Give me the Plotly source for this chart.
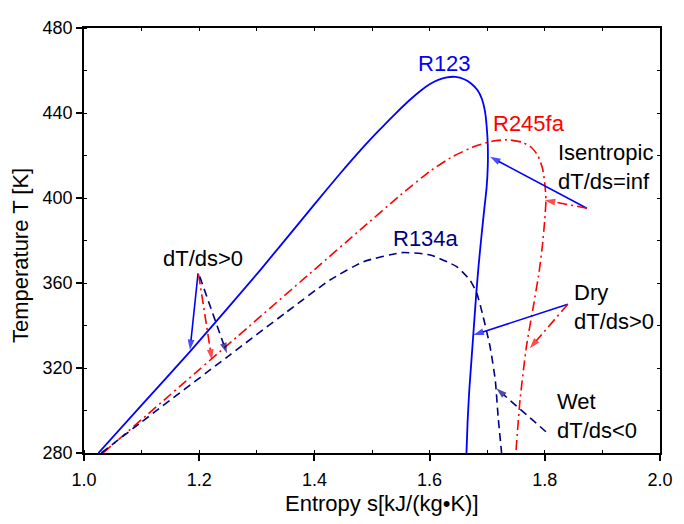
import plotly.graph_objects as go

# ---- data ----
r123_s = [1.025, 1.100, 1.184, 1.306, 1.400, 1.444, 1.479, 1.510, 1.540, 1.565, 1.585, 1.600, 1.615,
          1.630, 1.645, 1.660, 1.672, 1.683, 1.691, 1.696, 1.699, 1.701, 1.701, 1.699, 1.695, 1.690,
          1.685, 1.681, 1.677, 1.673, 1.669, 1.666, 1.664]
r123_T = [280.0, 302.5, 327.7, 366.1, 397.0, 411.3, 422.2, 431.2, 439.5, 446.0, 450.6, 453.5, 455.6,
          456.8, 457.0, 455.9, 453.9, 450.8, 446.5, 441.0, 434.0, 425.0, 415.0, 405.0, 395.0, 382.0,
          368.0, 355.0, 340.0, 325.0, 310.0, 295.0, 280.0]

r245_s = [1.033, 1.250, 1.400, 1.479, 1.549, 1.600, 1.640, 1.680, 1.710, 1.735, 1.760, 1.776, 1.788,
          1.796, 1.800, 1.802, 1.800, 1.796, 1.790, 1.780, 1.768, 1.757, 1.750]
r245_T = [280.0, 331.0, 366.3, 384.9, 401.3, 412.5, 419.5, 424.5, 426.8, 427.4, 426.3, 424.0, 420.0,
          414.0, 407.0, 399.0, 390.0, 378.0, 365.0, 348.8, 330.0, 305.0, 281.0]

r134_s = [1.030, 1.097, 1.253, 1.350, 1.427, 1.485, 1.552, 1.601, 1.647, 1.670, 1.682, 1.693, 1.705,
          1.714, 1.719, 1.725]
r134_T = [280.0, 294.0, 326.1, 346.0, 361.4, 370.0, 374.3, 373.2, 367.7, 361.4, 355.2, 344.1, 330.0,
          314.4, 297.0, 280.0]

# arrows: start (s, T) -> tip (s, T), styled like the fluid they point to
arrow_from_s = [1.198, 1.199, 1.201, 1.873, 1.873, 1.840, 1.840, 1.802]
arrow_from_T = [364.6, 364.0, 363.0, 395.2, 395.2, 350.0, 350.0, 290.0]
arrow_to_s = [1.184, 1.222, 1.248, 1.705, 1.800, 1.676, 1.774, 1.716]
arrow_to_T = [328.5, 323.8, 326.9, 419.4, 399.0, 335.5, 329.3, 310.4]
arrow_kind = ["R123", "R245fa", "R134a", "R123", "R245fa", "R123", "R245fa", "R134a"]

x_ticks = [1.0, 1.2, 1.4, 1.6, 1.8, 2.0]
y_ticks = [280, 320, 360, 400, 440, 480]

BLUE = "#0000FF"
RED = "#FF0000"
NAVY = "#000080"
style = {
    "R123": dict(color=BLUE, dash="solid"),
    "R245fa": dict(color=RED, dash="10px,4px,2px,4px"),
    "R134a": dict(color=NAVY, dash="8px,5px"),
}
FONT = "Liberation Sans, Arial, sans-serif"

fig = go.Figure()
fig.add_trace(go.Scatter(x=r123_s, y=r123_T, mode="lines", line_shape="spline",
                         line=dict(color=BLUE, width=1.8, smoothing=0.5), showlegend=False))
fig.add_trace(go.Scatter(x=r245_s, y=r245_T, mode="lines", line_shape="spline",
                         line=dict(color=RED, width=1.6, dash=style["R245fa"]["dash"], smoothing=0.5),
                         showlegend=False))
fig.add_trace(go.Scatter(x=r134_s, y=r134_T, mode="lines", line_shape="spline",
                         line=dict(color=NAVY, width=1.6, dash=style["R134a"]["dash"], smoothing=0.5),
                         showlegend=False))

for xs, ys, xe, ye, k in zip(arrow_from_s, arrow_from_T, arrow_to_s, arrow_to_T, arrow_kind):
    st = style[k]
    fig.add_trace(go.Scatter(
        x=[xs, xe], y=[ys, ye], mode="lines+markers",
        line=dict(color=st["color"], width=1.6, dash=st["dash"]),
        marker=dict(symbol="arrow", angleref="previous", size=[0, 11], color=st["color"],
                    line=dict(width=0)),
        showlegend=False))

# dummy trace for mirrored top/right axes
fig.add_trace(go.Scatter(x=[1.0], y=[280], xaxis="x2", yaxis="y2", mode="markers",
                         marker=dict(opacity=0), showlegend=False, hoverinfo="skip"))

ann = [
    dict(x=1.626, y=463.4, text="R123", color=BLUE, xanchor="center"),
    dict(x=1.773, y=435.2, text="R245fa", color=RED, xanchor="center"),
    dict(x=1.594, y=381.0, text="R134a", color=NAVY, xanchor="center"),
    dict(x=1.206, y=371.3, text="dT/ds>0", color="black", xanchor="center"),
    dict(x=1.819, y=414.4, text="Isentropic<br>dT/ds=inf", color="black", xanchor="left"),
    dict(x=1.847, y=348.7, text="Dry<br>dT/ds>0", color="black", xanchor="left"),
    dict(x=1.817, y=297.5, text="Wet<br>dT/ds<0", color="black", xanchor="left"),
]
for a in ann:
    fig.add_annotation(x=a["x"], y=a["y"], text=a["text"], showarrow=False, xanchor=a["xanchor"],
                       yanchor="middle", align="left",
                       font=dict(family=FONT, size=22, color=a["color"]))

# axis titles
fig.add_annotation(x=1.518, y=-0.118, xref="x", yref="paper", text="Entropy s[kJ/(kg\u2022K)]",
                   showarrow=False, xanchor="center", yanchor="middle",
                   font=dict(family=FONT, size=22, color="black"))
fig.add_annotation(x=-0.111, y=372.7, xref="paper", yref="y", text="Temperature T [K]",
                   textangle=-90, showarrow=False, xanchor="center", yanchor="middle",
                   font=dict(family=FONT, size=22, color="black"))

axis_common = dict(showgrid=False, zeroline=False, showline=True, linecolor="black", linewidth=1.5,
                   ticks="outside", ticklen=6, tickwidth=1.5, tickcolor="black",
                   tickfont=dict(family=FONT, size=18, color="black"))

fig.update_layout(
    width=684, height=524,
    margin=dict(l=84, r=24, t=28, b=71),
    paper_bgcolor="white", plot_bgcolor="white",
    xaxis=dict(range=[1.0, 2.0], tickvals=x_ticks, ticktext=[f"{v:.1f}" for v in x_ticks],
               ticklabelstandoff=4,
               minor=dict(ticks="inside", ticklen=3, tickwidth=1.2, dtick=0.1, tick0=1.0,
                          tickcolor="black"),
               **axis_common),
    yaxis=dict(range=[280, 480], tickvals=y_ticks, ticktext=[str(v) for v in y_ticks],
               minor=dict(ticks="inside", ticklen=3, tickwidth=1.2, dtick=20, tick0=280,
                          tickcolor="black"),
               **axis_common),
    xaxis2=dict(range=[1.0, 2.0], overlaying="x", side="top", anchor="y2", showgrid=False,
                zeroline=False, showline=True, linecolor="black", linewidth=1.5,
                ticks="inside", ticklen=3, tickwidth=1.2, tickcolor="black", dtick=0.1,
                tick0=1.0, showticklabels=False),
    yaxis2=dict(range=[280, 480], overlaying="y", side="right", anchor="x2", showgrid=False,
                zeroline=False, showline=True, linecolor="black", linewidth=1.5,
                ticks="inside", ticklen=3, tickwidth=1.2, tickcolor="black", dtick=20,
                tick0=280, showticklabels=False),
)

fig.write_html("out.html")
